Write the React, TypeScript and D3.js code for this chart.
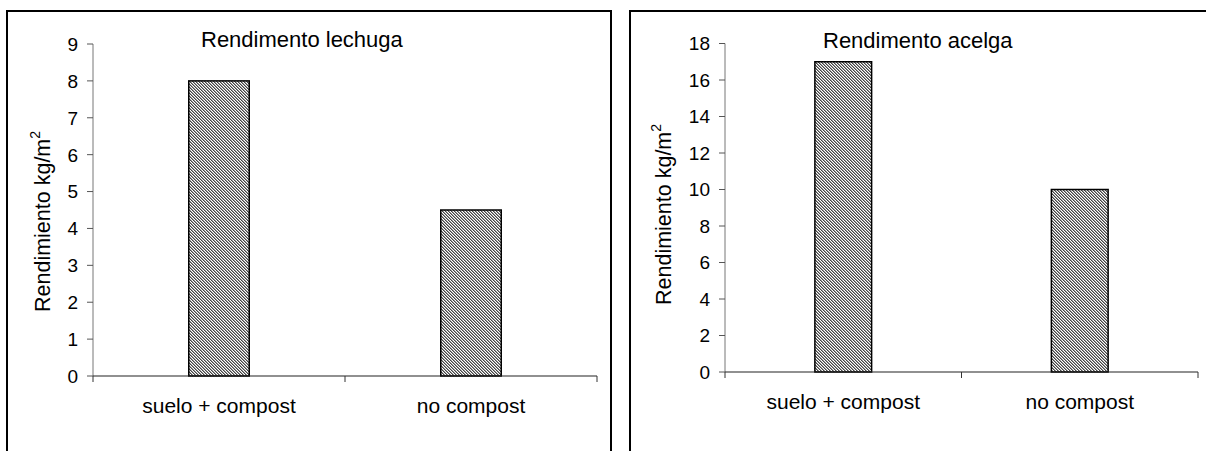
import React from "react";
import * as d3 from "d3";

const categories = ["suelo + compost", "no compost"];
const lechugaValues = [8, 4.5];
const acelgaValues = [17, 10];
const lechugaTicks = [0, 1, 2, 3, 4, 5, 6, 7, 8, 9];
const acelgaTicks = [0, 2, 4, 6, 8, 10, 12, 14, 16, 18];
const titles = ["Rendimento lechuga", "Rendimento acelga"];
const yLabel = "Rendimiento kg/m";

const FONT = "'Liberation Sans', Arial, sans-serif";

type PanelProps = {
  frame: { x: number; y: number; w: number; h: number };
  plot: { x0: number; x1: number; yBottom: number; yTop: number };
  values: number[];
  ticks: number[];
  title: string;
  titleX: number;
  titleY: number;
  labelX: number;
  labelY: number;
  catY: number;
};

function Panel(p: PanelProps) {
  const x = d3.scaleBand<string>().domain(categories).range([p.plot.x0, p.plot.x1]).padding(0);
  const y = d3
    .scaleLinear()
    .domain([0, d3.max(p.ticks) as number])
    .range([p.plot.yBottom, p.plot.yTop]);
  const bw = x.bandwidth() * 0.24;
  const boundaries = [p.plot.x0, ...categories.map((c) => (x(c) as number) + x.bandwidth())];
  return (
    <g>
      <rect x={p.frame.x} y={p.frame.y} width={p.frame.w} height={p.frame.h} fill="#fff" stroke="#000" strokeWidth={2} />
      <text x={p.titleX} y={p.titleY} fontFamily={FONT} fontSize={22} fill="#000">
        {p.title}
      </text>
      <text
        transform={`translate(${p.labelX},${p.labelY}) rotate(-90)`}
        textAnchor="start"
        fontFamily={FONT}
        fontSize={21.5}
        fill="#000"
      >
        {yLabel}
        <tspan fontSize={14} dy={-10}>2</tspan>
      </text>
      {categories.map((c, i) => (
        <rect
          key={c}
          x={(x(c) as number) + x.bandwidth() / 2 - bw / 2}
          y={y(p.values[i])}
          width={bw}
          height={y(0) - y(p.values[i])}
          fill="url(#hatch)"
          stroke="#000"
          strokeWidth={1.5}
        />
      ))}
      <line x1={p.plot.x0} x2={p.plot.x0} y1={p.plot.yTop} y2={p.plot.yBottom} stroke="#777" strokeWidth={1} />
      {p.ticks.map((t) => (
        <g key={t}>
          <line x1={p.plot.x0 - 6} x2={p.plot.x0} y1={y(t)} y2={y(t)} stroke="#555" strokeWidth={1} />
          <text
            x={p.plot.x0 - 15}
            y={y(t)}
            dy="0.36em"
            textAnchor="end"
            fontFamily={FONT}
            fontSize={19}
            fill="#000"
          >
            {t}
          </text>
        </g>
      ))}
      <line x1={p.plot.x0} x2={p.plot.x1} y1={y(0)} y2={y(0)} stroke="#222" strokeWidth={1.2} />
      {boundaries.map((b, i) => (
        <line key={i} x1={b} x2={b} y1={y(0)} y2={y(0) + 6} stroke="#333" strokeWidth={1} />
      ))}
      {categories.map((c) => (
        <text
          key={c}
          x={(x(c) as number) + x.bandwidth() / 2}
          y={p.catY}
          textAnchor="middle"
          fontFamily={FONT}
          fontSize={21}
          fill="#000"
        >
          {c}
        </text>
      ))}
    </g>
  );
}

export default function App() {
  return (
    <svg
      width={1206}
      height={451}
      style={{ position: "absolute", left: 0, top: 0, background: "#fff" }}
    >
      <defs>
        <pattern id="hatch" patternUnits="userSpaceOnUse" width={3} height={3}>
          <rect width={3} height={3} fill="#fff" />
          <g shapeRendering="crispEdges">
            <rect x={0} y={0} width={1} height={1} fill="#444" />
            <rect x={1} y={1} width={1} height={1} fill="#444" />
            <rect x={2} y={2} width={1} height={1} fill="#444" />
            <rect x={1} y={0} width={1} height={1} fill="#999" />
            <rect x={2} y={1} width={1} height={1} fill="#999" />
            <rect x={0} y={2} width={1} height={1} fill="#999" />
          </g>
        </pattern>
      </defs>
      <Panel
        frame={{ x: 7, y: 11, w: 604, h: 470 }}
        plot={{ x0: 93, x1: 597, yBottom: 376, yTop: 44 }}
        values={lechugaValues}
        ticks={lechugaTicks}
        title={titles[0]}
        titleX={201}
        titleY={47}
        labelX={50}
        labelY={312}
        catY={413}
      />
      <Panel
        frame={{ x: 630, y: 11, w: 600, h: 470 }}
        plot={{ x0: 725, x1: 1198, yBottom: 372, yTop: 43.5 }}
        values={acelgaValues}
        ticks={acelgaTicks}
        title={titles[1]}
        titleX={823}
        titleY={48}
        labelX={671}
        labelY={305}
        catY={409}
      />
    </svg>
  );
}
